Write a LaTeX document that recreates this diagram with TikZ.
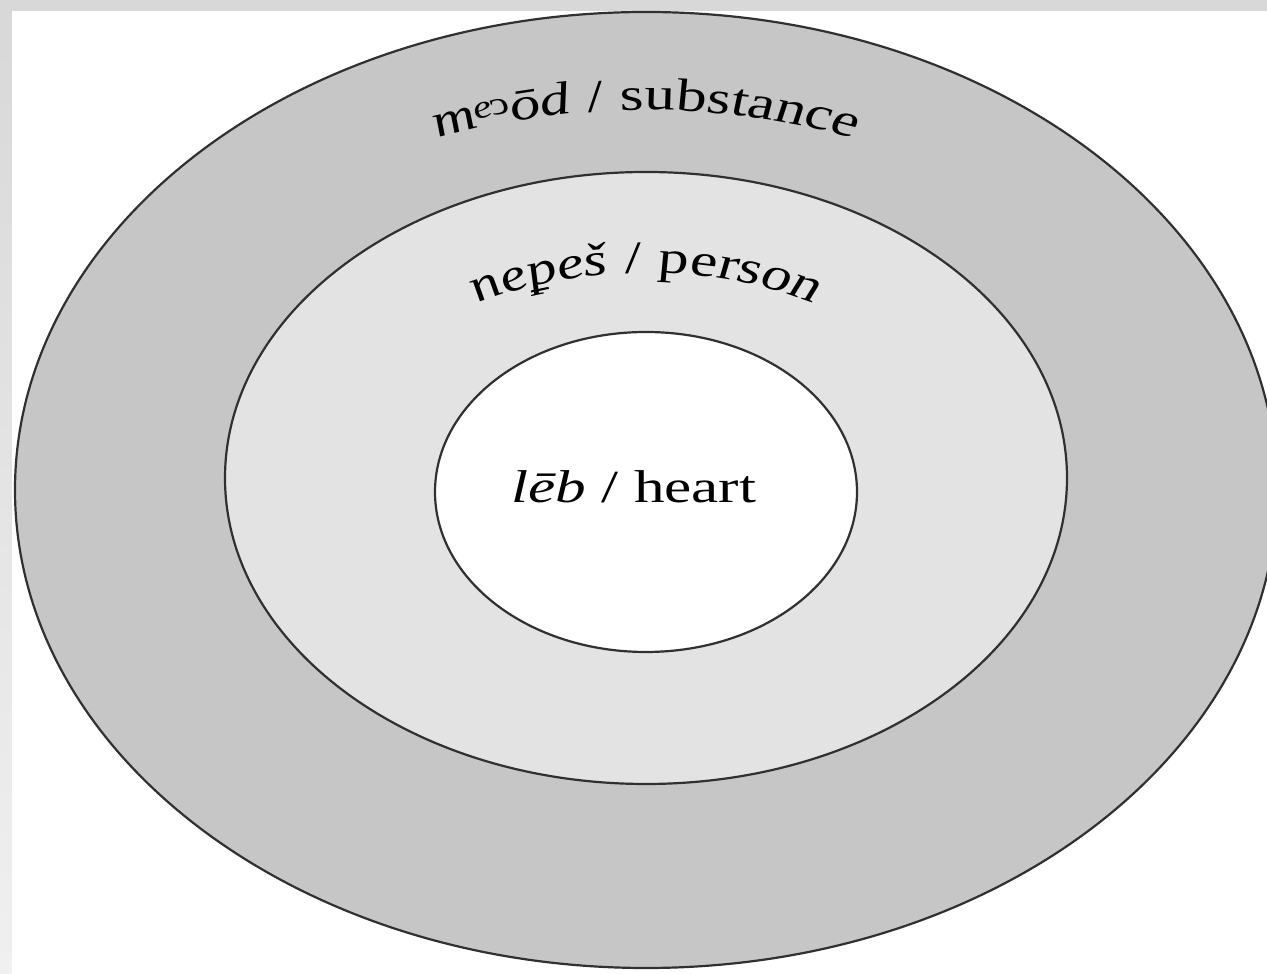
\documentclass[tikz,border=0pt]{standalone}
\usepackage{fontspec}
\setmainfont{Liberation Serif}
\newcommand\mysupE{\textsuperscript{e}}
\newcommand\myalef{\textsuperscript{\reflectbox{c}}}
\newcommand\mypstroke{\rlap{\kern-0.03em\raisebox{-0.13em}{\rule{0.3em}{0.045em}}}p}
\definecolor{outerfill}{HTML}{C6C6C6}
\definecolor{midfill}{HTML}{E3E3E3}
\definecolor{edge}{HTML}{303030}
\definecolor{bandtop}{HTML}{D8D8D8}
\definecolor{bandlow}{HTML}{F0F0F0}
\tikzset{
  ring/.style={draw=edge, line width=2.2pt},
  lbl/.style={inner sep=0pt, anchor=base},
  glyph/.style={inner sep=0pt, anchor=base},
}
\newcommand\SX{1.33}
\newcommand\myfsz{46}
\newcommand\myfs{\fontsize{46}{55}\selectfont}
% #1 name prefix, #2 cx, #3 cy, #4 x radius, #5 y radius, #6 list width(em)/glyph
\newcommand\arctext[6]{%
  \xdef\tot{0}%
  \foreach \w/\c in {#6}{\pgfmathsetmacro\tmp{\tot+\w}\xdef\tot{\tmp}}%
  \pgfmathsetmacro\tmp{-0.5*\tot}\xdef\cur{\tmp}%
  \foreach \w/\c [count=\i] in {#6}{%
    \pgfmathsetmacro\myt{90-(\cur+0.5*\w)*\myfsz/(#4)*180/pi}%
    \pgfmathsetmacro\px{(#2)+(#4)*cos(\myt)}%
    \pgfmathsetmacro\py{(#3)+(#5)*sin(\myt)}%
    \pgfmathsetmacro\rot{atan2(-(#5)*cos(\myt),(#4)*sin(\myt))}%
    \node[glyph, font=\myfs, rotate=\rot] (#1\i) at (\px,\py) {\c};
    \pgfmathsetmacro\tmp{\cur+\w}\xdef\cur{\tmp}%
  }%
}
\begin{document}
\begin{tikzpicture}[x=1pt,y=1pt]
\useasboundingbox (0,0) rectangle (1267,974);
% background frame
\shade[top color=bandtop, bottom color=bandlow] (0,0) rectangle (1267,974);
\fill[bandtop] (0,963) rectangle (1267,974);
\fill[white] (12,0) rectangle (1267,963);
% rings
\draw[ring, fill=outerfill] (646,484) ellipse [x radius=631, y radius=478];
\draw[ring, fill=midfill] (646,496) ellipse [x radius=421, y radius=306];
\draw[ring, fill=white] (646,482) ellipse [x radius=211, y radius=160];
% texts, horizontally stretched
\begin{scope}[transform canvas={xscale=\SX}]
  \arctext{o}{646/\SX}{484}{550/\SX}{380}{0.722/{\textit{m}},0.30/{\textit{\mysupE}},0.26/{\myalef},0.5/{\textit{ō}},0.5/{\textit{d}},0.25/{},0.278/{/},0.25/{},0.389/{s},0.5/{u},0.5/{b},0.389/{s},0.278/{t},0.444/{a},0.5/{n},0.444/{c},0.444/{e}}
  \arctext{m}{646/\SX}{496}{320/\SX}{205}{0.5/{\textit{n}},0.444/{\textit{e}},0.5/{\textit{\mypstroke}},0.444/{\textit{e}},0.389/{\textit{š}},0.25/{},0.278/{/},0.25/{},0.5/{p},0.444/{e},0.333/{r},0.389/{s},0.5/{o},0.5/{n}}
  \node[lbl, font=\myfs] (heart) at ({634/\SX},471) {\textit{lēb} / heart};
\end{scope}
\end{tikzpicture}
\end{document}
